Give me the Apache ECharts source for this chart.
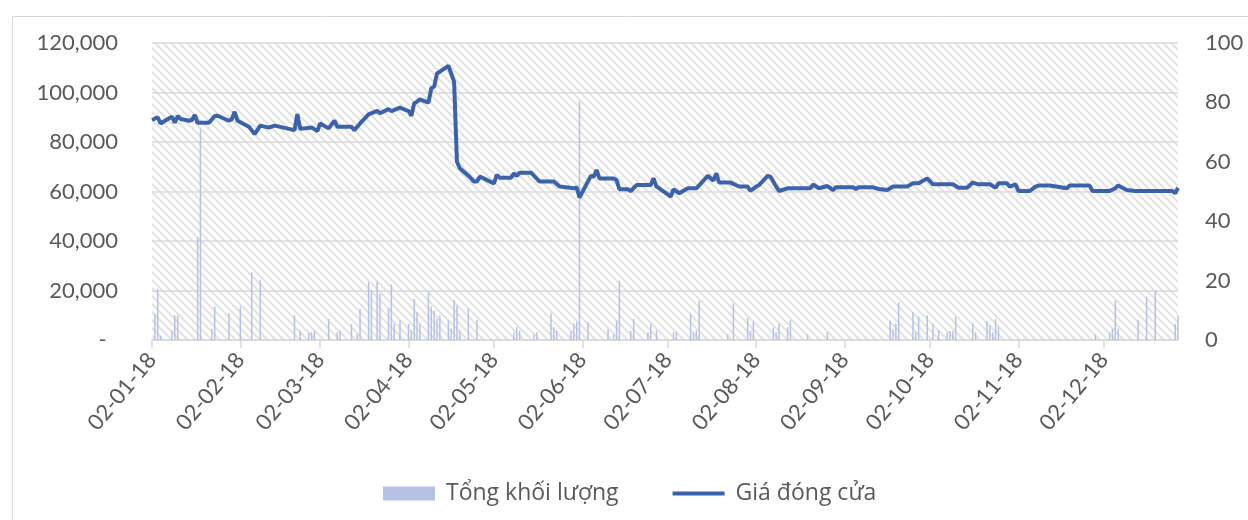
<!DOCTYPE html>
<html>
<head>
<meta charset="utf-8">
<style>
  html, body { margin: 0; padding: 0; background: #ffffff; }
  #chart { width: 1248px; height: 520px; }
</style>
<script src="https://cdn.jsdelivr.net/npm/echarts@6/dist/echarts.min.js"></script>
</head>
<body>
<div id="chart"></div>
<script>
// Closing price (VND), one entry per turning point of the line: [date, price]
const closePrice = [
  ['02-01-18', 88900], ['04-01-18', 90000], ['05-01-18', 87500], ['08-01-18', 89600],
  ['09-01-18', 90200], ['10-01-18', 87800], ['11-01-18', 90500], ['12-01-18', 89300],
  ['15-01-18', 88600], ['16-01-18', 88900], ['17-01-18', 90900], ['18-01-18', 87800],
  ['22-01-18', 87800], ['24-01-18', 90500], ['25-01-18', 90600], ['29-01-18', 88600],
  ['30-01-18', 89200], ['31-01-18', 92200], ['01-02-18', 88600], ['05-02-18', 86200],
  ['07-02-18', 83200], ['09-02-18', 86600], ['12-02-18', 85800], ['14-02-18', 86600],
  ['21-02-18', 84800], ['22-02-18', 91300], ['23-02-18', 85300], ['27-02-18', 85900],
  ['01-03-18', 84400], ['02-03-18', 87500], ['05-03-18', 85500], ['07-03-18', 88600],
  ['08-03-18', 86200], ['13-03-18', 86200], ['14-03-18', 84800], ['16-03-18', 87500],
  ['19-03-18', 91200], ['22-03-18', 92600], ['23-03-18', 91600], ['26-03-18', 93300],
  ['27-03-18', 92500], ['30-03-18', 93900], ['02-04-18', 92500], ['03-04-18', 90600],
  ['04-04-18', 95600], ['05-04-18', 96300], ['06-04-18', 97200], ['09-04-18', 95900],
  ['10-04-18', 101700], ['11-04-18', 102400], ['12-04-18', 107700], ['13-04-18', 108400],
  ['16-04-18', 110800], ['18-04-18', 104400], ['19-04-18', 72000], ['20-04-18', 69400],
  ['23-04-18', 66400], ['25-04-18', 64000], ['26-04-18', 64000], ['27-04-18', 66000],
  ['02-05-18', 63300], ['03-05-18', 66700], ['04-05-18', 65600], ['08-05-18', 65600],
  ['09-05-18', 67300], ['10-05-18', 66300], ['11-05-18', 67600], ['15-05-18', 67600],
  ['18-05-18', 64000], ['23-05-18', 64000], ['25-05-18', 62000], ['30-05-18', 61300],
  ['31-05-18', 61700], ['01-06-18', 57600], ['05-06-18', 66300], ['06-06-18', 66000],
  ['07-06-18', 68700], ['08-06-18', 65300], ['13-06-18', 65300], ['14-06-18', 64600],
  ['15-06-18', 60900], ['18-06-18', 60900], ['19-06-18', 60200], ['21-06-18', 62600],
  ['26-06-18', 62600], ['27-06-18', 65300], ['28-06-18', 62000], ['29-06-18', 61300],
  ['03-07-18', 57900], ['04-07-18', 60900], ['06-07-18', 59300], ['09-07-18', 61300],
  ['12-07-18', 61300], ['16-07-18', 66300], ['18-07-18', 64400], ['19-07-18', 67300],
  ['20-07-18', 63600], ['24-07-18', 63600], ['27-07-18', 62000], ['30-07-18', 62000],
  ['31-07-18', 60300], ['02-08-18', 62000], ['03-08-18', 62600], ['06-08-18', 66300],
  ['07-08-18', 66000], ['09-08-18', 62000], ['10-08-18', 60200], ['13-08-18', 61300],
  ['21-08-18', 61300], ['22-08-18', 62800], ['24-08-18', 61300], ['27-08-18', 62200],
  ['29-08-18', 60600], ['30-08-18', 61700], ['05-09-18', 61700], ['06-09-18', 61000],
  ['07-09-18', 61700], ['12-09-18', 61700], ['14-09-18', 61000], ['17-09-18', 60600],
  ['19-09-18', 62000], ['24-09-18', 62000], ['26-09-18', 63300], ['28-09-18', 63300],
  ['01-10-18', 65300], ['03-10-18', 62900], ['10-10-18', 62900], ['12-10-18', 61500],
  ['15-10-18', 61500], ['17-10-18', 63600], ['19-10-18', 62900], ['23-10-18', 62900],
  ['25-10-18', 61500], ['26-10-18', 63300], ['29-10-18', 63300], ['30-10-18', 62000],
  ['01-11-18', 62900], ['02-11-18', 60200], ['06-11-18', 60200], ['08-11-18', 62000],
  ['09-11-18', 62400], ['13-11-18', 62400], ['19-11-18', 61300], ['20-11-18', 62400],
  ['27-11-18', 62400], ['28-11-18', 60200], ['04-12-18', 60200], ['06-12-18', 61300],
  ['07-12-18', 62400], ['10-12-18', 60600], ['13-12-18', 60200], ['26-12-18', 60200],
  ['27-12-18', 59300], ['28-12-18', 61500]
];

// Total traded volume on the secondary scale: [date, volume]
const totalVolume = [
  ['03-01-18', 8.8], ['04-01-18', 17.2], ['05-01-18', 1.5], ['09-01-18', 3.2],
  ['10-01-18', 8.3], ['11-01-18', 8.3], ['18-01-18', 34.6], ['19-01-18', 71.1],
  ['23-01-18', 3.8], ['24-01-18', 11.3], ['29-01-18', 9.0], ['02-02-18', 11.3],
  ['06-02-18', 22.8], ['09-02-18', 20.3], ['21-02-18', 8.3], ['23-02-18', 3.2],
  ['26-02-18', 2.3], ['27-02-18', 2.6], ['28-02-18', 3.2], ['05-03-18', 7.1],
  ['08-03-18', 2.6], ['09-03-18', 3.2], ['13-03-18', 5.5], ['15-03-18', 1.9],
  ['16-03-18', 10.5], ['19-03-18', 19.5], ['20-03-18', 16.7], ['22-03-18', 19.8],
  ['23-03-18', 15.5], ['26-03-18', 10.8], ['27-03-18', 18.7], ['28-03-18', 5.5],
  ['30-03-18', 6.6], ['02-04-18', 5.5], ['03-04-18', 3.2], ['04-04-18', 13.8],
  ['05-04-18', 9.4], ['06-04-18', 5.5], ['09-04-18', 16.1], ['10-04-18', 11.3],
  ['11-04-18', 9.9], ['12-04-18', 7.1], ['13-04-18', 8.3], ['16-04-18', 6.6],
  ['17-04-18', 3.8], ['18-04-18', 13.5], ['19-04-18', 11.6], ['20-04-18', 3.2],
  ['23-04-18', 10.5], ['26-04-18', 6.8], ['09-05-18', 2.6], ['10-05-18', 4.3],
  ['11-05-18', 3.2], ['16-05-18', 1.8], ['17-05-18', 2.6], ['22-05-18', 9.0],
  ['23-05-18', 4.3], ['24-05-18', 3.2], ['29-05-18', 3.0], ['30-05-18', 5.5],
  ['31-05-18', 6.0], ['01-06-18', 80.3], ['04-06-18', 6.0], ['11-06-18', 3.6],
  ['13-06-18', 1.9], ['14-06-18', 6.6], ['15-06-18', 20.0], ['19-06-18', 3.0],
  ['20-06-18', 7.1], ['25-06-18', 2.6], ['26-06-18', 5.5], ['28-06-18', 3.2],
  ['04-07-18', 2.6], ['05-07-18', 2.6], ['10-07-18', 8.8], ['11-07-18', 2.6],
  ['12-07-18', 3.2], ['13-07-18', 13.1], ['23-07-18', 1.9], ['25-07-18', 12.4],
  ['30-07-18', 7.5], ['31-07-18', 3.2], ['01-08-18', 6.3], ['08-08-18', 4.3],
  ['09-08-18', 2.6], ['10-08-18', 5.5], ['13-08-18', 4.3], ['14-08-18', 6.6],
  ['20-08-18', 1.9], ['27-08-18', 2.6], ['18-09-18', 6.6], ['19-09-18', 3.6],
  ['20-09-18', 5.5], ['21-09-18', 12.7], ['26-09-18', 9.4], ['27-09-18', 2.6],
  ['28-09-18', 7.9], ['01-10-18', 8.3], ['03-10-18', 5.5], ['05-10-18', 3.2],
  ['08-10-18', 2.3], ['09-10-18', 3.0], ['10-10-18', 3.0], ['11-10-18', 7.8],
  ['17-10-18', 5.5], ['18-10-18', 2.6], ['22-10-18', 6.3], ['23-10-18', 4.9],
  ['24-10-18', 2.6], ['25-10-18', 7.1], ['26-10-18', 4.4], ['29-11-18', 1.8],
  ['04-12-18', 2.6], ['05-12-18', 3.8], ['06-12-18', 13.2], ['07-12-18', 3.8],
  ['14-12-18', 6.8], ['17-12-18', 14.6], ['20-12-18', 16.6], ['27-12-18', 5.5],
  ['28-12-18', 8.3]
];

const seriesNames = ['Tổng khối lượng', 'Giá đóng cửa'];

// Calendar days shown on the date axis (dd-mm-yy)
const firstDay = Date.UTC(2018, 0, 2);
const lastDay = Date.UTC(2018, 11, 28);
const dateCategories = [];
for (let t = firstDay; t <= lastDay; t += 86400000) {
  const d = new Date(t);
  const dd = String(d.getUTCDate()).padStart(2, '0');
  const mm = String(d.getUTCMonth() + 1).padStart(2, '0');
  dateCategories.push(dd + '-' + mm + '-18');
}
const isMonthMark = (idx, val) => val.slice(0, 2) === '02';

// Diagonal hatching for the plot background
function hatchPattern() {
  const size = 8;
  const c = document.createElement('canvas');
  c.width = size; c.height = size;
  const g = c.getContext('2d');
  g.fillStyle = '#ffffff';
  g.fillRect(0, 0, size, size);
  g.strokeStyle = '#e2e2e2';
  g.lineWidth = 2;
  for (let k = -size; k <= size; k += size) {
    g.beginPath();
    g.moveTo(-2, -2 + k);
    g.lineTo(size + 2, size + 2 + k);
    g.stroke();
  }
  return { image: c, repeat: 'repeat' };
}

// Legend key for the price line: a 4px bar centred in a 52x14 box
const LINE_KEY = 'path://M0,0L0.01,0L0.01,0.01Z M0,14L0.01,14L0.01,13.99Z M0,5L52,5L52,9L0,9Z';

const FONT = 'Lato';
const TEXT = '#595959';
const GRID = '#d9d9d9';
const LINE_COLOR = '#3c62ab';

const chart = echarts.init(document.getElementById('chart'), null, { renderer: 'canvas' });
chart.setOption({
  animation: false,
  backgroundColor: '#ffffff',
  graphic: [{
    type: 'rect',
    left: 10, top: 14,
    shape: { width: 1400, height: 700 },
    style: { fill: 'none', stroke: GRID, lineWidth: 1 },
    silent: true, z: -10
  }],
  grid: {
    show: true,
    left: 152, right: 70, top: 43, bottom: 180,
    backgroundColor: hatchPattern(),
    borderWidth: 0
  },
  legend: {
    left: 383, top: 482,
    padding: 0,
    itemWidth: 52, itemHeight: 14,
    itemGap: 54,
    textStyle: { fontFamily: 'Open Sans', fontSize: 23, color: TEXT, padding: [0, 0, 0, 6] },
    data: [
      { name: seriesNames[0], icon: 'rect' },
      { name: seriesNames[1], icon: LINE_KEY, itemStyle: { color: LINE_COLOR } }
    ]
  },
  xAxis: {
    type: 'category',
    data: dateCategories,
    boundaryGap: false,
    axisLine: { lineStyle: { color: GRID, width: 1.5 } },
    axisTick: { interval: isMonthMark, length: 8, lineStyle: { color: GRID, width: 1.5 } },
    axisLabel: {
      interval: isMonthMark, rotate: 50, margin: 16,
      fontFamily: FONT, fontSize: 22, color: TEXT
    },
    splitLine: { show: false }
  },
  yAxis: [{
    type: 'value',
    min: 0, max: 120000, interval: 20000,
    axisLine: { show: false },
    axisTick: { show: false },
    splitLine: { lineStyle: { color: GRID, width: 1.5 } },
    axisLabel: {
      margin: 34, fontFamily: FONT, fontSize: 22, color: TEXT,
      formatter: v => v === 0 ? '-  ' : v.toLocaleString('en-US')
    }
  }, {
    type: 'value',
    min: 0, max: 100, interval: 20,
    axisLine: { show: false },
    axisTick: { show: false },
    splitLine: { show: false },
    axisLabel: { margin: 27, fontFamily: FONT, fontSize: 22, color: TEXT }
  }],
  series: [{
    name: seriesNames[0],
    type: 'bar',
    yAxisIndex: 1,
    data: totalVolume,
    barWidth: 1.5,
    itemStyle: { color: '#b4c2e3' }
  }, {
    name: seriesNames[1],
    type: 'line',
    yAxisIndex: 0,
    data: closePrice,
    symbol: 'none',
    showSymbol: false,
    lineStyle: { color: LINE_COLOR, width: 4 },
    itemStyle: { color: LINE_COLOR },
    z: 5
  }]
});
</script>
</body>
</html>
